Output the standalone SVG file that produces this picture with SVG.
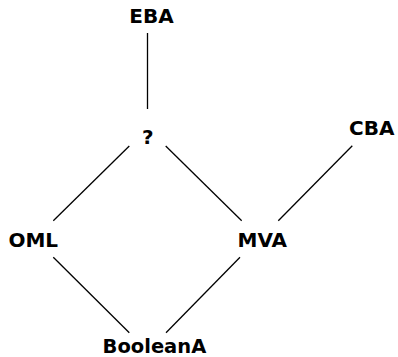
<svg xmlns="http://www.w3.org/2000/svg" width="398" height="357" viewBox="0 0 398 357">
<style>
text{font-family:"DejaVu Sans",sans-serif;font-weight:bold;font-size:20px;text-anchor:middle;fill:#000}
line{stroke:#000;stroke-width:1.3}
</style>
<rect width="398" height="357" fill="#fff"/>
<g id="connectors">
<line x1="147.5" y1="33" x2="147.5" y2="109"/>
<line x1="129.3" y1="146" x2="53.3" y2="220.7"/>
<line x1="165.7" y1="146" x2="241.7" y2="220.7"/>
<line x1="352.3" y1="145.7" x2="278.3" y2="220.7"/>
<line x1="53.3" y1="257.3" x2="129.3" y2="332.7"/>
<line x1="240" y1="257.3" x2="166" y2="332.7"/>
</g>
<g id="EBA"><text x="151.5" y="23">EBA</text></g>
<g id="Q"><text x="147.7" y="144">?</text></g>
<g id="CBA"><text x="371.7" y="135">CBA</text></g>
<g id="OML"><text x="33.3" y="247">OML</text></g>
<g id="MVA"><text x="262.3" y="247">MVA</text></g>
<g id="BooleanA"><text x="154.4" y="353" style="font-size:19.5px">BooleanA</text></g>
</svg>
